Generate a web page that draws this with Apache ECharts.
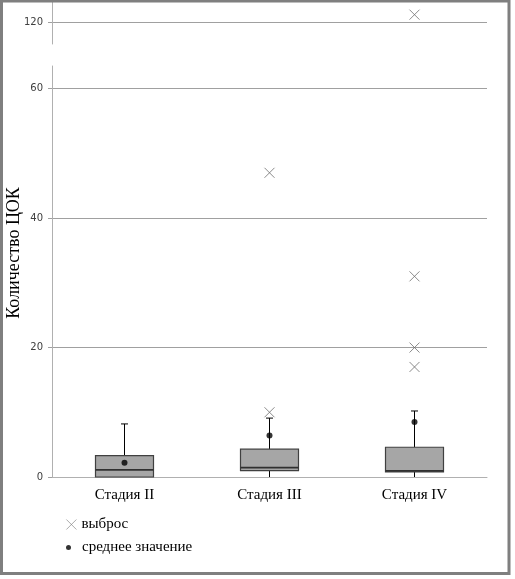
<!DOCTYPE html>
<html>
<head>
<meta charset="utf-8">
<script src="https://cdn.jsdelivr.net/npm/echarts@6/dist/echarts.min.js"></script>
<style>
  html, body { margin: 0; padding: 0; background: #fff; }
  #box4 { width: 515px; height: 579px; }
</style>
</head>
<body>
<div id="box4"></div>
<script>
// стадии и значения
var stages = ['Стадия II', 'Стадия III', 'Стадия IV'];
var boxLow = [0, 0, 0];
var boxQ1 = [0, 1.0, 0.8];
var boxMedian = [1.1, 1.45, 0.95];
var boxQ3 = [3.3, 4.3, 4.6];
var boxHigh = [8.2, 9.1, 10.2];
var means = [2.2, 6.4, 8.5];
var outliersLow = [['Стадия III', 10], ['Стадия III', 47], ['Стадия IV', 17], ['Стадия IV', 20], ['Стадия IV', 31]];
var outliersHigh = [['Стадия IV', 121]];
var lowTicks = [0, 20, 40, 60];
var highTicks = [120];

!function(){
    var myChart = echarts.init(document.getElementById('box4'));

    var boxRows = stages.map(function (s, i) {
        return [i, boxLow[i], boxQ1[i], boxMedian[i], boxQ3[i], boxHigh[i]];
    });

    var crossIcon = 'path://M0,0L10,10M10,0L0,10';
    var serif = 'Liberation Serif';
    var grey = '#a6a6a6';

    function renderBox(params, api) {
        var idx = api.value(0);
        var bw = api.size([1, 0])[0] * 0.4;
        var low = api.coord([idx, api.value(1)]);
        var q1 = api.coord([idx, api.value(2)]);
        var med = api.coord([idx, api.value(3)]);
        var q3 = api.coord([idx, api.value(4)]);
        var high = api.coord([idx, api.value(5)]);
        var cx = low[0];
        var children = [
            { type: 'line', shape: { x1: cx, y1: q3[1], x2: cx, y2: high[1] }, style: { stroke: '#000', lineWidth: 1 } },
            { type: 'line', shape: { x1: cx - 3.5, y1: high[1], x2: cx + 3.5, y2: high[1] }, style: { stroke: '#000', lineWidth: 1 } },
            { type: 'line', shape: { x1: cx, y1: low[1], x2: cx, y2: q1[1] }, style: { stroke: '#000', lineWidth: 1 } },
            { type: 'rect', shape: { x: cx - bw / 2, y: q3[1], width: bw, height: q1[1] - q3[1] },
              style: { fill: grey, stroke: '#404040', lineWidth: 1.2 } },
            { type: 'line', shape: { x1: cx - bw / 2, y1: med[1], x2: cx + bw / 2, y2: med[1] },
              style: { stroke: '#303030', lineWidth: 1.6 } }
        ];
        return { type: 'group', children: children };
    }

    var option = {
        animation: false,
        backgroundColor: '#fff',
        grid: [
            { left: 52, right: 28, top: 0, height: 44 },
            { left: 52, right: 28, top: 66, bottom: 102 }
        ],
        xAxis: [
            { type: 'category', gridIndex: 0, data: stages, show: false },
            {
                type: 'category', gridIndex: 1, data: stages,
                axisLine: { lineStyle: { color: '#b0b0b0', width: 1 } },
                axisTick: { length: 4, lineStyle: { color: '#b0b0b0' } },
                axisLabel: { color: '#000', fontFamily: serif, fontSize: 15, margin: 11 }
            }
        ],
        yAxis: [
            {
                type: 'value', gridIndex: 0, min: 117, max: 123, interval: 3,
                axisLine: { show: true, lineStyle: { color: '#b0b0b0' } },
                axisTick: { show: true, length: 4, customValues: highTicks, lineStyle: { color: '#a0a0a0' } },
                axisLabel: { customValues: highTicks, color: '#404040', fontFamily: 'DejaVu Sans', fontSize: 10, margin: 9 },
                splitLine: { show: true, showMinLine: true, showMaxLine: true, lineStyle: { color: '#a0a0a0' } }
            },
            {
                type: 'value', gridIndex: 1, min: 0, max: 63.5, interval: 20,
                axisLine: { show: true, lineStyle: { color: '#b0b0b0' } },
                axisTick: { show: true, length: 4, customValues: lowTicks, lineStyle: { color: '#a0a0a0' } },
                axisLabel: { customValues: lowTicks, color: '#404040', fontFamily: 'DejaVu Sans', fontSize: 10, margin: 9 },
                splitLine: { show: true, showMinLine: false, showMaxLine: true, lineStyle: { color: '#a0a0a0' } }
            }
        ],
        legend: [
            {
                data: ['выброс'], orient: 'vertical', left: 61, top: 512,
                itemWidth: 10, itemHeight: 10, itemGap: 6,
                itemStyle: { color: 'rgba(0,0,0,0)', borderColor: '#7a7a7a', borderWidth: 0.8 },
                textStyle: { fontFamily: serif, fontSize: 15, color: '#000' }
            },
            {
                data: ['среднее значение'], orient: 'vertical', left: 61, top: 535,
                itemWidth: 5, itemHeight: 5,
                textStyle: { fontFamily: serif, fontSize: 15, color: '#000', padding: [0, 0, 0, 6] }
            }
        ],
        graphic: [
            {
                type: 'text', x: 14, y: 253, rotation: Math.PI / 2,
                style: { text: 'Количество ЦОК', font: '18px "Liberation Serif"', fill: '#000',
                         align: 'center', verticalAlign: 'middle' }
            },
            {
                type: 'rect', z: 100, silent: true,
                shape: { x: 1.5, y: 1, width: 507.5, height: 572.5 },
                style: { fill: 'none', stroke: '#7f7f7f', lineWidth: 3 }
            }
        ],
        series: [
            {
                name: 'box', type: 'custom', xAxisIndex: 1, yAxisIndex: 1,
                data: boxRows, renderItem: renderBox, z: 2,
                encode: { x: 0, y: [1, 2, 3, 4, 5] }
            },
            {
                name: 'выброс', type: 'scatter', xAxisIndex: 1, yAxisIndex: 1,
                data: outliersLow, symbol: crossIcon, symbolSize: 10, z: 3,
                itemStyle: { color: 'rgba(0,0,0,0)', borderColor: '#6e6e6e', borderWidth: 1 }
            },
            {
                name: 'выброс', type: 'scatter', xAxisIndex: 0, yAxisIndex: 0,
                data: outliersHigh, symbol: crossIcon, symbolSize: 10, z: 3,
                itemStyle: { color: 'rgba(0,0,0,0)', borderColor: '#6e6e6e', borderWidth: 1 }
            },
            {
                name: 'среднее значение', type: 'scatter', xAxisIndex: 1, yAxisIndex: 1,
                data: stages.map(function (s, i) { return [s, means[i]]; }),
                symbol: 'circle', symbolSize: 6, z: 4,
                itemStyle: { color: '#000' }
            }
        ]
    };

    myChart.setOption(option);
}()
</script>
</body>
</html>
